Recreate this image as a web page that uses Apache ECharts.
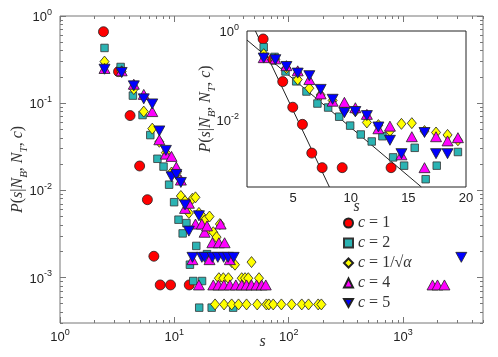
<!DOCTYPE html>
<html><head><meta charset="utf-8">
<script src="https://cdn.jsdelivr.net/npm/echarts@6/dist/echarts.min.js"></script>
<style>html,body{margin:0;padding:0;background:#fff}#c{width:498px;height:357px}</style>
</head><body><div id="c"></div>
<script>
// ---- data (s, P) ----
const sRed = [2.4, 3.25, 4.1, 4.97, 5.81, 6.62, 7.52, 9.26, 13.5];
const pRed = [0.66, 0.23, 0.072, 0.019, 0.0078, 0.00175, 0.00082, 0.00082, 0.00082];

const sCyan = [2.45, 3.39, 4.34, 5.27, 6.16, 7.11, 8.04, 9.0, 9.95, 10.87, 11.82, 12.75, 13.68, 14.63, 15.55, 16.5, 17.46, 19.3, 21.2, 32.7];
const pCyan = [0.43, 0.26, 0.122, 0.073, 0.043, 0.023, 0.0187, 0.0116, 0.0073, 0.0046, 0.0032, 0.0042, 0.0014, 0.00091, 0.0023, 0.00045, 0.00091, 0.00185, 0.00045, 0.00045];

const sYel = [2.45, 3.46, 4.42, 5.4, 6.41, 7.39, 8.43, 9.45, 10.4, 11.4, 12.4, 13.4, 14.4, 15.3, 16.4, 17.4, 18.4, 19.3,
  20.3, 21.9, 23.4, 25.0, 31.8, 33.9, 47.3,
  24.5, 26.8, 29.7, 38.8, 41.5, 44.3, 55,
  22.7, 27.2, 31.7, 36.4, 42.8, 53, 63.8, 67, 73.2, 86.3, 106, 130, 149, 181, 193];
const pYel = [0.30, 0.23, 0.145, 0.08, 0.051, 0.036, 0.027, 0.016, 0.0155, 0.0086, 0.0075, 0.0055, 0.008, 0.0083, 0.0055, 0.0051, 0.0045, 0.0034,
  0.005, 0.0033, 0.0029, 0.0041, 0.0015, 0.0014, 0.0015,
  0.00098, 0.00098, 0.00098, 0.00098, 0.00098, 0.00098, 0.00098,
  0.00049, 0.00049, 0.00049, 0.00049, 0.00049, 0.00049, 0.00049, 0.00049, 0.00049, 0.00049, 0.00049, 0.00049, 0.00049, 0.00049, 0.00049];

const sMag = [2.45, 3.46, 4.42, 5.4, 6.41, 7.39, 8.43, 9.45, 10.4, 11.4, 12.4, 13.4, 14.4, 15.3, 16.4, 17.4, 18.4, 19.3,
  25.4, 21.5, 24.5, 27.5, 20.3, 30.6,
  21.9, 24.3, 27.1, 30.6, 34.5, 38.8, 42.8, 47.3, 52.3, 58, 63, 1810, 2000, 2300];
const pMag = [0.25, 0.235, 0.165, 0.126, 0.08, 0.038, 0.026, 0.0245, 0.0185, 0.0131, 0.0062, 0.0071, 0.0016, 0.0041, 0.00082, 0.0041, 0.0033, 0.0039,
  0.0041, 0.0025, 0.0025, 0.0025, 0.0016, 0.0016,
  0.00082, 0.00082, 0.00082, 0.00082, 0.00082, 0.00082, 0.00082, 0.00082, 0.00082, 0.00082, 0.00082, 0.00082, 0.00082, 0.00082];

const sBlue = [2.45, 3.46, 4.42, 5.4, 6.41, 7.39, 8.43, 9.45, 10.4, 11.4, 12.4, 13.4, 14.4, 16.4, 17.4, 18.4, 21.5, 24, 27, 29.5, 33, 3230];
const pBlue = [0.245, 0.225, 0.158, 0.112, 0.098, 0.048, 0.0287, 0.0143, 0.0152, 0.0123, 0.0068, 0.0034, 0.0017, 0.0051, 0.0017, 0.0017, 0.0017, 0.0017, 0.0017, 0.0017, 0.0017, 0.0017];

// fitted exponential lines in the inset (endpoints)
const fitRedS = [1.73, 8.15];
const fitRedP = [1, 0.0003];
const fitCyanS = [1, 16.13];
const fitCyanP = [0.625, 0.0003];

const seriesNames = ['c = 1', 'c = 2', 'c = 1/√α', 'c = 4', 'c = 5'];

// ticks
const xMajor = [1, 10, 100, 1000];
const xMinor = [2,3,4,5,6,7,8,9,20,30,40,50,60,70,80,90,200,300,400,500,600,700,800,900,2000,3000,4000,5000];
const yMajor = [0.001, 0.01, 0.1, 1];
const yMinor = [0.0003,0.0004,0.0005,0.0006,0.0007,0.0008,0.0009,0.002,0.003,0.004,0.005,0.006,0.007,0.008,0.009,0.02,0.03,0.04,0.05,0.06,0.07,0.08,0.09,0.2,0.3,0.4,0.5,0.6,0.7,0.8,0.9];
const insetXTicks = [5, 10, 15, 20];
const insetYTicks = [0.01, 1];

// ---- build ----
const pairs = (s, p) => s.map((v, i) => [v, p[i]]);
const axisGray = '#777';
const txt = '#222';
const supRich = {
  b: {fontSize: 13, fontFamily: 'Liberation Sans', color: txt, verticalAlign: 'bottom'},
  s: {fontSize: 9, fontFamily: 'Liberation Sans', color: txt, verticalAlign: 'top', padding: [0, 0, 7, 0]}
};
const powLabel = v => '{b|10}{s|' + Math.round(Math.log10(v)) + '}';
const mathRich = {
  i: {fontFamily: 'Liberation Serif', fontStyle: 'italic', fontSize: 16, color: '#333', lineHeight: 18, verticalAlign: 'top'},
  r: {fontFamily: 'Liberation Serif', fontSize: 16, color: '#333', lineHeight: 18, verticalAlign: 'top'},
  u: {fontFamily: 'Liberation Serif', fontStyle: 'italic', fontSize: 11, color: '#333', lineHeight: 11, verticalAlign: 'top', padding: [9, 0, 0, 0]}
};
const legRich = {
  i: {fontFamily: 'Liberation Serif', fontStyle: 'italic', fontSize: 16, color: '#333', lineHeight: 14},
  r: {fontFamily: 'Liberation Serif', fontSize: 16, color: '#333', lineHeight: 14}
};
const yName = '{i|P}{r|(}{i|s}{r||}{i|N}{u|B}{r|, }{i|N}{u|T}{r|, }{i|c}{r|)}';

function mainX(pos, ticks, len, label) {
  return {type: 'log', logBase: 10, gridIndex: 0, position: pos, min: 1, max: 5000,
    axisLine: {show: false}, splitLine: {show: false}, minorTick: {show: false},
    axisTick: {show: true, inside: true, length: len, customValues: ticks, lineStyle: {color: axisGray}},
    axisLabel: label ? {show: true, customValues: xMajor, formatter: powLabel, rich: supRich, margin: 5} : {show: false},
    name: label ? '{i|s}' : '', nameLocation: 'middle', nameGap: 11, nameMoveOverlap: false,
    nameTextStyle: {rich: mathRich, padding: [0, 18, 0, 0]}};
}
function mainY(pos, ticks, len, label) {
  return {type: 'log', logBase: 10, gridIndex: 0, position: pos, min: 0.0003, max: 1,
    axisLine: {show: false}, splitLine: {show: false}, minorTick: {show: false},
    axisTick: {show: true, inside: true, length: len, customValues: ticks, lineStyle: {color: axisGray}},
    axisLabel: label ? {show: true, customValues: yMajor, formatter: powLabel, rich: supRich, margin: 8} : {show: false},
    name: label ? yName : '', nameLocation: 'middle', nameGap: 32, nameMoveOverlap: false, nameRotate: 90, nameTextStyle: {rich: mathRich}};
}

const symBlue = 'path://M0,0L20,0L10,18Z';
const styles = [
  {sym: 'circle', size: 10, color: '#ff0000', border: '#222'},
  {sym: 'rect', size: 7.5, color: '#2bb3b3', border: '#333'},
  {sym: 'diamond', size: [9, 11], color: '#ffff00', border: '#222'},
  {sym: 'triangle', size: [11, 10], color: '#ff00ff', border: '#222'},
  {sym: symBlue, size: [11, 10], color: '#0000ff', border: '#222'}
];
const datasets = [pairs(sRed, pRed), pairs(sCyan, pCyan), pairs(sYel, pYel), pairs(sMag, pMag), pairs(sBlue, pBlue)];

const series = [];
[0, 4].forEach(ax => {
  datasets.forEach((d, i) => {
    const st = styles[i];
    series.push({type: 'scatter', name: seriesNames[i], xAxisIndex: ax, yAxisIndex: ax, data: d,
      symbol: st.sym, symbolSize: st.size, clip: true,
      itemStyle: {color: st.color, borderColor: st.border, borderWidth: 0.8, opacity: 1},
      emphasis: {disabled: true}, silent: true, animation: false});
  });
});
[[fitRedS, fitRedP], [fitCyanS, fitCyanP]].forEach(f => {
  series.splice(5, 0, {type: 'line', xAxisIndex: 4, yAxisIndex: 4, data: pairs(f[0], f[1]), symbol: 'none',
    lineStyle: {color: '#222', width: 1}, clip: true, silent: true, animation: false, z: 1});
});

const legendFmt = n => '{i|c}{r|' + n.slice(1).replace('α', '') + '}' + (n.indexOf('α') >= 0 ? '{i|α}' : '');
const legendIcons = ['circle', 'rect', 'diamond', 'triangle', symBlue];

const option = {
  animation: false,
  backgroundColor: '#fff',
  grid: [
    {left: 60, top: 16, right: 15, bottom: 34, show: true, borderColor: axisGray, borderWidth: 1, backgroundColor: 'transparent', outerBoundsMode: 'none', containLabel: false},
    {left: 247, top: 31, right: 32, bottom: 170, show: true, borderColor: '#222', borderWidth: 1, backgroundColor: '#fff', outerBoundsMode: 'none', containLabel: false}
  ],
  xAxis: [
    mainX('bottom', xMajor, 6, true),
    mainX('bottom', xMinor, 3, false),
    mainX('top', xMajor, 6, false),
    mainX('top', xMinor, 3, false),
    {type: 'value', gridIndex: 1, min: 1, max: 20, position: 'bottom',
      axisLine: {show: false}, splitLine: {show: false}, axisTick: {show: false},
      axisLabel: {customValues: insetXTicks, fontSize: 13, fontFamily: 'Liberation Sans', color: txt, margin: 5},
      name: '{i|s}', nameLocation: 'middle', nameGap: 12, nameMoveOverlap: false, nameTextStyle: {rich: mathRich}}
  ],
  yAxis: [
    mainY('left', yMajor, 6, true),
    mainY('left', yMinor, 3, false),
    mainY('right', yMajor, 6, false),
    mainY('right', yMinor, 3, false),
    {type: 'log', logBase: 10, gridIndex: 1, min: 0.0003, max: 1, position: 'left',
      axisLine: {show: false}, splitLine: {show: false}, axisTick: {show: false}, minorTick: {show: false},
      axisLabel: {customValues: insetYTicks, formatter: powLabel, rich: supRich, margin: 8},
      name: yName, nameLocation: 'middle', nameGap: 31, nameMoveOverlap: false, nameRotate: 90, nameTextStyle: {rich: mathRich}}
  ],
  legend: {
    data: seriesNames.map((n, i) => ({name: n, icon: legendIcons[i]})),
    orient: 'vertical', left: 338, top: 210, itemWidth: 9, itemHeight: 9, itemGap: 4,
    selectedMode: false, formatter: legendFmt,
    textStyle: {fontFamily: 'Liberation Serif', fontSize: 16, color: '#333', lineHeight: 14, rich: legRich}
  },
  series: series
};
const chart = echarts.init(document.getElementById('c'), null, {renderer: 'canvas'});
chart.setOption(option);
</script>
</body></html>
